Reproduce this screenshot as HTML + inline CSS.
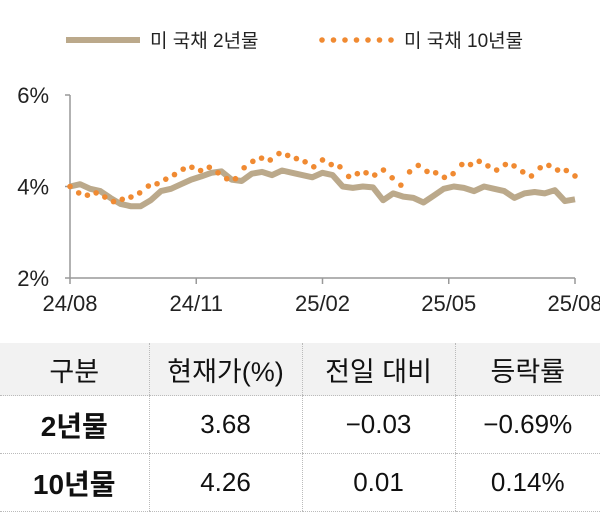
<!DOCTYPE html>
<html><head><meta charset="utf-8"><style>
body{margin:0;width:600px;height:504px;background:#fff;overflow:hidden;font-family:"Liberation Sans","Noto Sans CJK KR",sans-serif;}
svg{position:absolute;left:0;top:0}
table{position:absolute;left:0;top:343px;width:600px;border-collapse:collapse;table-layout:fixed}
td{text-align:center;border-left:1px dotted #bbb;border-bottom:1px dotted #bbb;padding:0;color:#111;white-space:nowrap}
td:first-child{border-left:none}
tr.h td{background:#f2f2f2;height:52px;font-size:27px}
tr.r td{height:57px;font-size:26px}
tr.r td:first-child{font-weight:bold;font-size:28px}
</style></head><body>
<svg width="600" height="340">
<g>
<line x1="66" y1="40" x2="140" y2="40" stroke="#bba98b" stroke-width="6"/>
<text x="150" y="47" font-size="19" fill="#222">미 국채 2년물</text>
<g id="legdots"></g>
<text x="404" y="47" font-size="19" fill="#222">미 국채 10년물</text>
</g>
<g id="axes"></g><g id="series"></g>
</svg>
<table>
<colgroup><col style="width:149px"><col style="width:153px"><col style="width:153px"><col></colgroup>
<tr class="h"><td>구분</td><td>현재가(%)</td><td>전일 대비</td><td>등락률</td></tr>
<tr class="r"><td>2년물</td><td>3.68</td><td>−0.03</td><td>−0.69%</td></tr>
<tr class="r"><td>10년물</td><td>4.26</td><td>0.01</td><td>0.14%</td></tr>
</table>
<script>
const xLabels=["24/08","24/11","25/02","25/05","25/08"];
const yTicks=[2,4,6];
const y10=[4.0,3.86,3.81,3.86,3.77,3.67,3.72,3.77,3.86,4.01,4.06,4.16,4.26,4.38,4.42,4.35,4.42,4.30,4.17,4.17,4.41,4.55,4.62,4.58,4.72,4.68,4.61,4.54,4.43,4.58,4.48,4.43,4.22,4.28,4.30,4.25,4.36,4.19,4.03,4.32,4.46,4.33,4.30,4.20,4.28,4.48,4.48,4.55,4.45,4.36,4.48,4.45,4.32,4.23,4.41,4.46,4.36,4.35,4.23];
const y2=[4.0,4.05,3.95,3.9,3.75,3.62,3.57,3.57,3.7,3.9,3.95,4.05,4.15,4.22,4.3,4.33,4.15,4.12,4.28,4.32,4.25,4.35,4.3,4.25,4.2,4.3,4.25,4.0,3.97,4.0,3.98,3.7,3.85,3.78,3.75,3.65,3.8,3.95,4.0,3.97,3.9,4.0,3.95,3.9,3.75,3.85,3.88,3.85,3.92,3.68,3.72];
const X0=70,X1=575,Y0=278,Y1=95;
const NS="http://www.w3.org/2000/svg";
const sy=v=>Y0-(v-2)/(6-2)*(Y0-Y1);
const sx=f=>X0+f*(X1-X0);
function mk(t,a,p){const e=document.createElementNS(NS,t);for(const k in a)e.setAttribute(k,a[k]);p.appendChild(e);return e;}
const ax=document.getElementById('axes'),se=document.getElementById('series');
let e=mk('line',{x1:X0,y1:Y1,x2:X0,y2:Y0,stroke:'#999','stroke-width':1.5},ax);


e=mk('line',{x1:X0,y1:Y0,x2:X1,y2:Y0,stroke:'#999','stroke-width':1.5},ax);


yTicks.forEach(v=>{mk('line',{x1:X0-5,y1:sy(v),x2:X0,y2:sy(v),stroke:'#999','stroke-width':1.5},ax);
 const t=mk('text',{x:X0-21,y:sy(v)+8,'font-size':22,'text-anchor':'end',fill:'#222'},ax);t.textContent=v+'%';
 
 });
xLabels.forEach((l,i)=>{const x=sx(i/(xLabels.length-1));
 mk('line',{x1:x,y1:Y0,x2:x,y2:Y0+6,stroke:'#999','stroke-width':1.5},ax);
 const t=mk('text',{x:x,y:Y0+33,'font-size':22,'text-anchor':'middle',fill:'#222'},ax);t.textContent=l;
 
 });
const d=y2.map((v,i)=>(i?'L':'M')+sx(i/(y2.length-1)).toFixed(1)+','+sy(v).toFixed(1)).join('');
e=mk('path',{d:d,fill:'none',stroke:'#bba98b','stroke-width':6,'stroke-linejoin':'round'},se);


y10.forEach((v,i)=>{const c=mk('circle',{cx:sx(i/(y10.length-1)),cy:sy(v),r:2.8,fill:'#f08a32'},se);
 
 });
const lg=document.getElementById('legdots');
for(let i=0;i<7;i++){mk('circle',{cx:322+i*11.5,cy:40,r:2.8,fill:'#f08a32'},lg);}
</script>
</body></html>
